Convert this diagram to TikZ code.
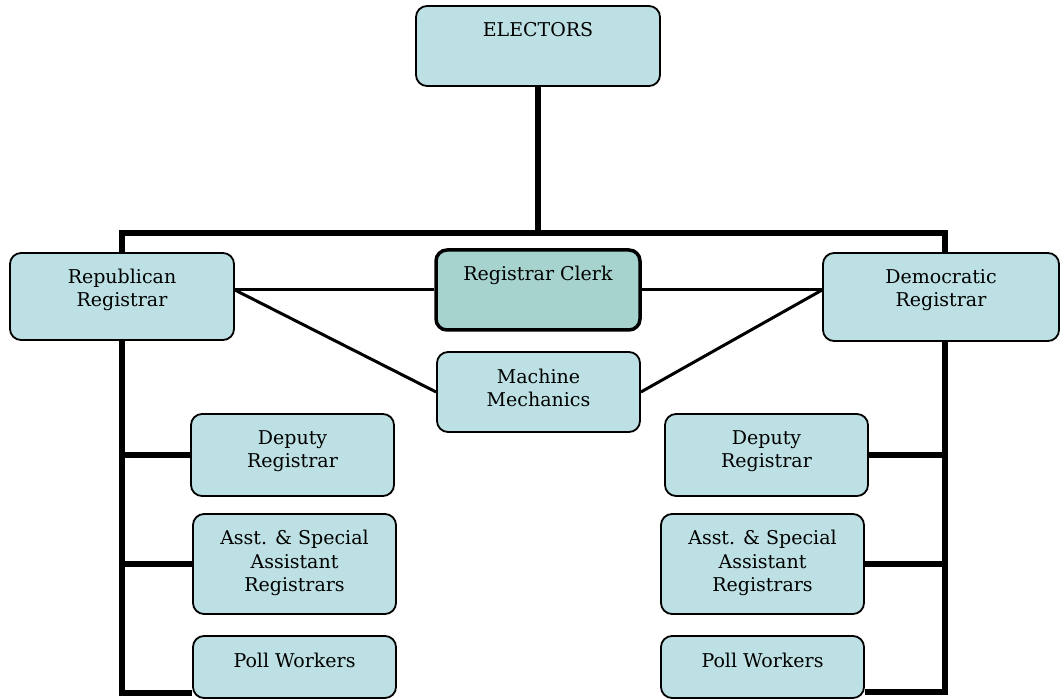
\documentclass[tikz,border=0pt]{standalone}
\usepackage{fontspec}
\setmainfont{DejaVu Serif}
\usetikzlibrary{backgrounds}
\definecolor{boxfill}{HTML}{BCE0E3}
\definecolor{clerkfill}{HTML}{A7D3CF}
\begin{document}
\begin{tikzpicture}[x=1pt,y=-1pt,
  box/.style={draw=black, line width=1.8pt, fill=boxfill, rounded corners=11pt, inner sep=0pt},
  clerkbox/.style={box, fill=clerkfill, line width=3.5pt},
  lbl/.style={font=\fontsize{19}{23.5}\selectfont, align=center, inner sep=0pt},
  trunk/.style={line width=5.5pt, line join=miter},
  link/.style={line width=3pt}]
\useasboundingbox (0,0) rectangle (1060,700);

% boxes
\node[box, minimum width=244pt, minimum height=80pt] (el) at (538,46) {};
\node[box, minimum width=224pt, minimum height=87pt] (rep) at (122,296.5) {};
\node[clerkbox, minimum width=204pt, minimum height=80pt] (clerk) at (538,290) {};
\node[box, minimum width=236pt, minimum height=88pt] (dem) at (941,297) {};
\node[box, minimum width=203pt, minimum height=80pt] (mech) at (538.5,392) {};
\node[box, minimum width=203pt, minimum height=82pt] (ldep) at (292.5,455) {};
\node[box, minimum width=203pt, minimum height=100pt] (lasst) at (294.5,564) {};
\node[box, minimum width=203pt, minimum height=62pt] (lpw) at (294.5,667) {};
\node[box, minimum width=203pt, minimum height=82pt] (rdep) at (766.5,455) {};
\node[box, minimum width=203pt, minimum height=100pt] (rasst) at (762.5,564) {};
\node[box, minimum width=203pt, minimum height=62pt] (rpw) at (762.5,667) {};

% labels
\node[lbl] (elT) at (538,30) {ELECTORS};
\node[lbl] (repT) at (122,290) {Republican\\Registrar};
\node[lbl] (clerkT) at (538,275) {Registrar Clerk};
\node[lbl] (demT) at (941,290) {Democratic\\Registrar};
\node[lbl] (mechT) at (538.5,388) {Machine\\Mechanics};
\node[lbl] (ldepT) at (292.5,451) {Deputy\\Registrar};
\node[lbl] (lasstT) at (294.5,563) {Asst. \& Special\\Assistant\\Registrars};
\node[lbl] (lpwT) at (294.5,660) {Poll Workers};
\node[lbl] (rdepT) at (766.5,451) {Deputy\\Registrar};
\node[lbl] (rasstT) at (762.5,563) {Asst. \& Special\\Assistant\\Registrars};
\node[lbl] (rpwT) at (762.5,660) {Poll Workers};

% connectors
\coordinate (barL) at (122,233);
\coordinate (barR) at (945,233);
\coordinate (endL) at (122,693);
\coordinate (endR) at (945,692);
\begin{scope}[on background layer]
  \draw[trunk] (el.south) -- (el.south |- barL);
  \draw[trunk] (lpw.west |- endL) -- (endL) -- (barL) -- (barR) -- (endR) -- (rpw.east |- endR);
  \draw[trunk] (barL |- ldep.west) -- (ldep.west);
  \draw[trunk] (barL |- lasst.west) -- (lasst.west);
  \draw[trunk] (barR |- rdep.east) -- (rdep.east);
  \draw[trunk] (barR |- rasst.east) -- (rasst.east);
  \draw[link] (rep.east |- clerk.west) -- (clerk.west);
  \draw[link] (rep.east |- clerk.west) -- (mech.west);
  \draw[link] (dem.west |- clerk.east) -- (clerk.east);
  \draw[link] (dem.west |- clerk.east) -- (mech.east);
\end{scope}
\end{tikzpicture}
\end{document}
